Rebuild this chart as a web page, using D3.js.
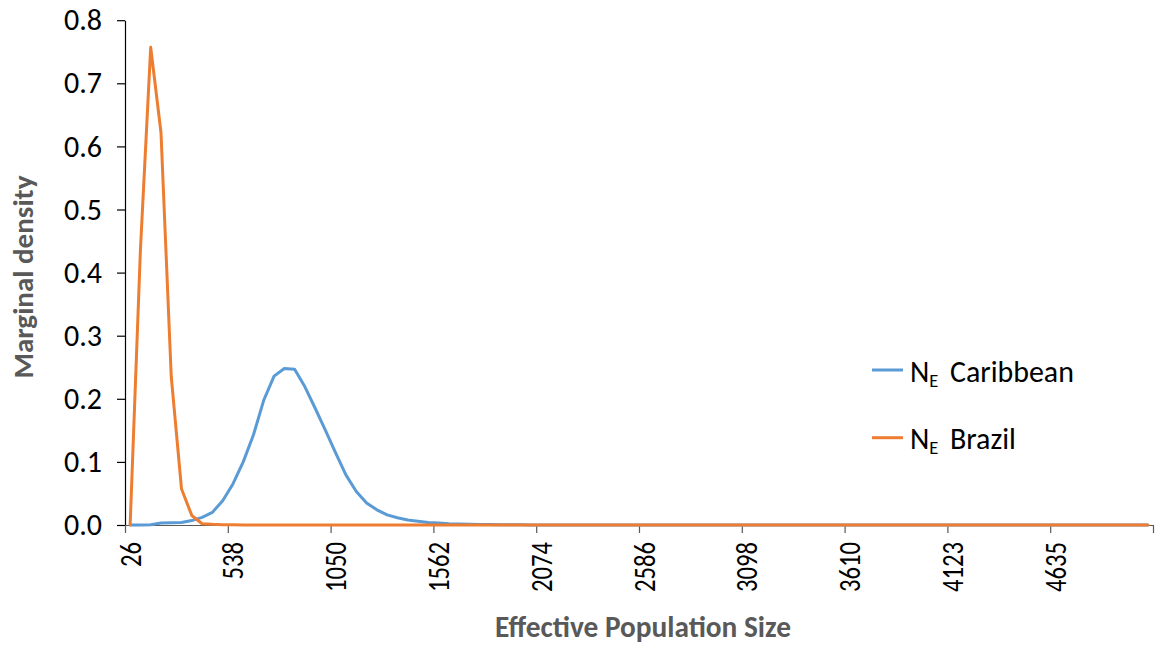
<!DOCTYPE html>
<html>
<head>
<meta charset="utf-8">
<script src="https://cdn.jsdelivr.net/npm/d3@7"></script>
<style>
  html, body { margin: 0; padding: 0; background: #ffffff; }
  svg { display: block; }
</style>
</head>
<body>
<svg id="chart" width="1156" height="649"></svg>
<script>
// ---------------- data ----------------
const categories = [
  26, 77, 128, 180, 231, 282, 333, 384, 436, 487,
  538, 589, 640, 692, 743, 794, 845, 897, 948, 999,
  1050, 1101, 1153, 1204, 1255, 1306, 1357, 1409, 1460, 1511,
  1562, 1613, 1665, 1716, 1767, 1818, 1869, 1921, 1972, 2023,
  2074, 2125, 2177, 2228, 2279, 2330, 2382, 2433, 2484, 2535,
  2586, 2638, 2689, 2740, 2791, 2842, 2894, 2945, 2996, 3047,
  3098, 3150, 3201, 3252, 3303, 3354, 3406, 3457, 3508, 3559,
  3610, 3662, 3713, 3764, 3815, 3866, 3918, 3969, 4020, 4071,
  4123, 4174, 4225, 4276, 4327, 4379, 4430, 4481, 4532, 4583,
  4635, 4686, 4737, 4788, 4839, 4891, 4942, 4993, 5044, 5095
];
const caribbean = [
  0, 0, 0.0005, 0.003, 0.0035, 0.004, 0.007, 0.012, 0.020, 0.0385,
  0.065, 0.100, 0.143, 0.198, 0.236, 0.248, 0.247, 0.219, 0.185, 0.150,
  0.114, 0.079, 0.053, 0.035, 0.024, 0.016, 0.0116, 0.008, 0.006, 0.004,
  0.003, 0.002, 0.0015, 0.001, 0.0008, 0.0006, 0.0004, 0.0003, 0.0002, 0.0001,
  0.0001, 0.0001, 0.0001, 0, 0, 0, 0, 0, 0, 0,
  0, 0, 0, 0, 0, 0, 0, 0, 0, 0,
  0, 0, 0, 0, 0, 0, 0, 0, 0, 0,
  0, 0, 0, 0, 0, 0, 0, 0, 0, 0,
  0, 0, 0, 0, 0, 0, 0, 0, 0, 0,
  0, 0, 0, 0, 0, 0, 0, 0, 0, 0
];
const brazil = [
  0, 0.436, 0.757, 0.622, 0.235, 0.057, 0.015, 0.002, 0.001, 0.0005,
  0.0002, 0, 0, 0, 0, 0, 0, 0, 0, 0,
  0, 0, 0, 0, 0, 0, 0, 0, 0, 0,
  0, 0, 0, 0, 0, 0, 0, 0, 0, 0,
  0, 0, 0, 0, 0, 0, 0, 0, 0, 0,
  0, 0, 0, 0, 0, 0, 0, 0, 0, 0,
  0, 0, 0, 0, 0, 0, 0, 0, 0, 0,
  0, 0, 0, 0, 0, 0, 0, 0, 0, 0,
  0, 0, 0, 0, 0, 0, 0, 0, 0, 0,
  0, 0, 0, 0, 0, 0, 0, 0, 0, 0
];
const yTicks = [0, 0.1, 0.2, 0.3, 0.4, 0.5, 0.6, 0.7, 0.8];
const xLabelEvery = 10;
const seriesNames = ["Caribbean", "Brazil"];
const seriesColors = ["#5B9BD5", "#ED7D31"];
const xTitle = "Effective Population Size";
const yTitle = "Marginal density";

// ---------------- layout ----------------
const FONT = "Carlito, Calibri, 'Open Sans', sans-serif";
const mLeft = 125, mRight = 1153, mTop = 20.2, mBottom = 525;
const svg = d3.select("#chart");

function measure(str, weight) {
  const t = svg.append("text").attr("font-family", FONT)
    .attr("font-weight", weight || "normal").attr("font-size", 100).text(str);
  const w = t.node().getComputedTextLength();
  t.remove();
  return w / 100;
}
const yTickFS = 38 / measure("0.8");
const xTickFS = 50 / measure("1050");
const legendFS = 124 / measure("Caribbean");
const xTitleFS = 296 / measure(xTitle, "bold");
const yTitleFS = 203 / measure(yTitle, "bold");

const idx = d3.range(categories.length);
const x = d3.scaleBand().domain(idx).range([mLeft, mRight]).padding(0);
const xEdge = d3.scaleLinear().domain([0, categories.length]).range([mLeft, mRight]);
const y = d3.scaleLinear().domain([0, 0.8]).range([mBottom, mTop]);
const cx = i => x(i) + x.bandwidth() / 2;

// y axis
const yAxis = svg.append("g").attr("transform", `translate(${mLeft},0)`)
  .call(d3.axisLeft(y).tickValues(yTicks).tickFormat(d3.format(".1f")).tickSize(8).tickSizeOuter(0));
yAxis.select(".domain").attr("stroke", "#000").attr("stroke-width", 1.2);
yAxis.selectAll(".tick line").attr("stroke", "#000").attr("stroke-width", 1.2);
yAxis.selectAll(".tick text").attr("x", -23).attr("font-family", FONT)
  .attr("font-size", yTickFS).attr("fill", "#000");

// x axis tick marks at category boundaries
const edgeTicks = d3.range(0, categories.length + 1, xLabelEvery);
const xAxisMarks = svg.append("g").attr("transform", `translate(0,${mBottom})`)
  .call(d3.axisBottom(xEdge).tickValues(edgeTicks).tickFormat("").tickSize(8).tickSizeOuter(0));
xAxisMarks.select(".domain").attr("stroke", "#595959").attr("stroke-width", 1.2);
xAxisMarks.selectAll(".tick line").attr("stroke", "#595959").attr("stroke-width", 1.2);

// x labels at category centres
const labelIdx = idx.filter(i => i % xLabelEvery === 0);
const xAxisLabels = svg.append("g").attr("transform", `translate(0,${mBottom})`)
  .call(d3.axisBottom(x).tickValues(labelIdx).tickFormat(i => categories[i]).tickSize(0));
xAxisLabels.select(".domain").remove();
xAxisLabels.selectAll(".tick text")
  .attr("font-family", FONT).attr("font-size", xTickFS).attr("fill", "#000")
  .attr("transform", "rotate(-90) scale(1,1.22)")
  .attr("text-anchor", "end")
  .attr("x", -17).attr("y", 0).attr("dy", "0.35em");

// lines
const line = d3.line().x((d, i) => cx(i)).y(d => y(d));
[caribbean, brazil].forEach((s, k) => {
  svg.append("path").datum(s)
    .attr("fill", "none").attr("stroke", seriesColors[k])
    .attr("stroke-width", 3).attr("stroke-linejoin", "round").attr("stroke-linecap", "round")
    .attr("d", line);
});

// axis titles
svg.append("text").attr("x", 643).attr("y", 637)
  .attr("text-anchor", "middle").attr("font-family", FONT).attr("font-weight", "bold")
  .attr("font-size", xTitleFS).attr("fill", "#595959").text(xTitle);
svg.append("text").attr("transform", "translate(33,277) rotate(-90)")
  .attr("text-anchor", "middle").attr("font-family", FONT).attr("font-weight", "bold")
  .attr("font-size", yTitleFS).attr("fill", "#595959").text(yTitle);

// legend
const legendY = [370, 437.7];
seriesNames.forEach((name, k) => {
  const g = svg.append("g");
  g.append("line").attr("x1", 872).attr("x2", 903)
    .attr("y1", legendY[k]).attr("y2", legendY[k])
    .attr("stroke", seriesColors[k]).attr("stroke-width", 3);
  const t = g.append("text").attr("x", 910).attr("y", legendY[k] + 11.5)
    .attr("font-family", FONT).attr("font-size", legendFS).attr("fill", "#000");
  t.append("tspan").text("N");
  t.append("tspan").attr("font-size", legendFS * 0.62).attr("dy", 5).text("E");
  t.append("tspan").attr("x", 950).attr("dy", -5).text(name);
});
</script>
</body>
</html>
